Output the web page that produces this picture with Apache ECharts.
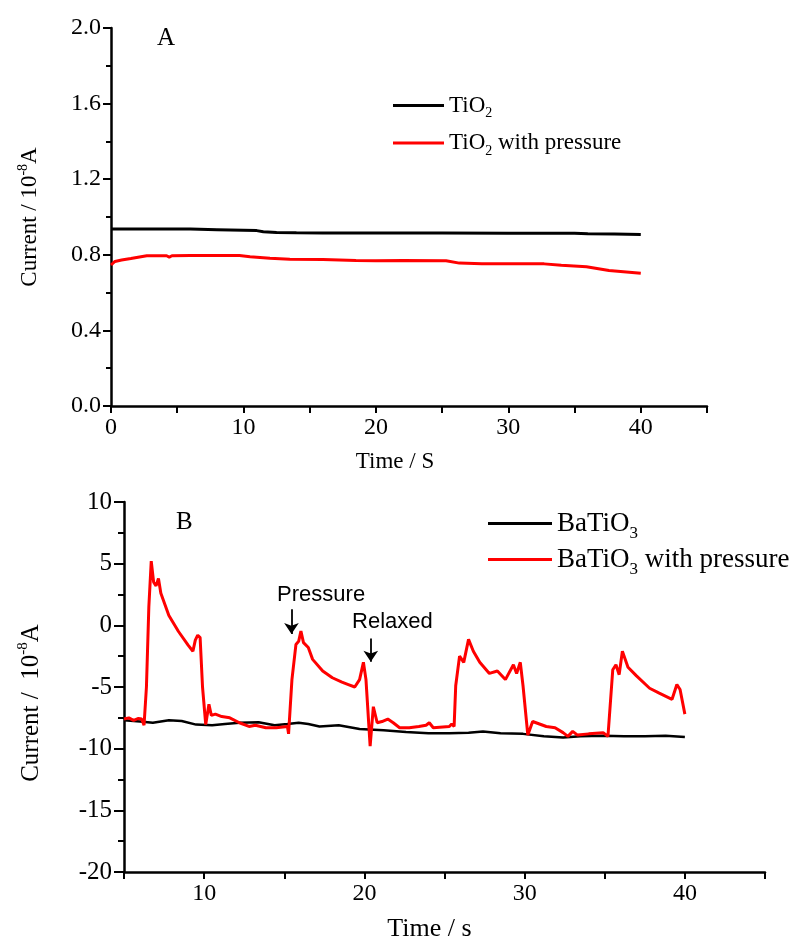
<!DOCTYPE html>
<html><head><meta charset="utf-8">
<script src="https://cdn.jsdelivr.net/npm/echarts@6/dist/echarts.min.js"></script>
<style>html,body{margin:0;padding:0;background:#fff}#c{width:796px;height:943px}</style>
</head><body><div id="c"></div>
<script>
// ---- Panel A data (Time / S, Current / 1e-8 A) ----
const tio2Time = [0,2,4,6,8,10,11,11.5,12.5,14,16,20,25,30,35,36,38,40];
const tio2Cur  = [0.937,0.937,0.937,0.936,0.933,0.930,0.928,0.922,0.918,0.917,0.916,0.915,0.915,0.914,0.914,0.912,0.910,0.908];
const tio2pTime = [0,0.3,0.8,1.5,2.7,4.2,4.4,4.6,6,8,9.7,10.5,12,13.5,16,18.5,20,22,25.3,26.3,28,30,32.7,34,35.9,37.6,40];
const tio2pCur  = [0.746,0.765,0.772,0.780,0.795,0.795,0.788,0.795,0.796,0.796,0.796,0.790,0.782,0.776,0.775,0.770,0.769,0.770,0.769,0.756,0.752,0.752,0.752,0.745,0.737,0.717,0.702];

// ---- Panel B data (Time / s, Current / 1e-8 A) ----
const batTime = [5,6,6.8,7.8,8.6,9.5,10.5,11.3,12.2,13.4,14.4,15.2,15.9,16.5,17.2,18.4,19.7,21.2,22.6,24,25.3,26.5,27.4,28.5,29.9,31.2,32.4,33.5,34.9,36.2,37.5,38.8,40];
const batCur  = [-7.7,-7.8,-7.9,-7.7,-7.75,-8.05,-8.1,-8.0,-7.9,-7.85,-8.1,-8.0,-7.9,-8.0,-8.2,-8.1,-8.4,-8.5,-8.65,-8.75,-8.75,-8.7,-8.6,-8.75,-8.8,-9.0,-9.1,-9.0,-8.95,-9.0,-9.0,-8.95,-9.05];
const batpTime = [5,5.3,5.6,5.9,6.1,6.25,6.4,6.55,6.7,6.85,7.0,7.15,7.3,7.8,8.4,9.0,9.3,9.45,9.6,9.75,9.9,10.1,10.3,10.45,10.7,11.1,11.6,12.2,12.8,13.2,13.85,14.5,15.2,15.27,15.48,15.73,15.9,16.04,16.2,16.5,16.77,17.4,18.0,18.6,19.0,19.4,19.7,19.94,20.1,20.36,20.56,20.8,21.1,21.46,21.8,22.2,22.8,23.4,23.85,24.05,24.3,25.3,25.45,25.6,25.7,25.94,26.05,26.2,26.5,26.8,27.2,27.8,28.3,28.8,29.3,29.5,29.73,29.9,30.2,30.5,31.35,31.9,32.4,32.7,33.0,33.3,34.0,34.9,35.2,35.5,35.7,35.9,36.1,36.45,36.98,37.8,38.4,39.2,39.5,39.7,40];
const batpCur  = [-7.6,-7.5,-7.7,-7.55,-7.6,-8.1,-5.0,1.5,5.2,3.5,3.2,3.8,2.6,0.8,-0.5,-1.6,-2.1,-1.2,-0.8,-1.0,-5.0,-8.05,-6.4,-7.3,-7.2,-7.4,-7.5,-7.9,-8.2,-8.1,-8.3,-8.3,-8.2,-8.8,-4.4,-1.55,-1.3,-0.46,-1.4,-1.8,-2.76,-3.7,-4.25,-4.6,-4.8,-5.0,-4.4,-3.0,-4.4,-9.8,-6.6,-7.9,-7.8,-7.6,-7.9,-8.3,-8.3,-8.2,-8.1,-7.9,-8.3,-8.2,-8.0,-8.2,-4.9,-2.5,-2.4,-3.0,-1.14,-2.1,-3.0,-3.9,-3.7,-4.4,-3.2,-3.9,-3.0,-4.9,-8.9,-7.8,-8.2,-8.3,-8.7,-9.0,-8.6,-8.9,-8.8,-8.7,-9.0,-3.6,-3.2,-4.0,-2.1,-3.4,-4.1,-5.1,-5.5,-6.0,-4.8,-5.2,-7.2];

// annotation positions (data coordinates)
const pressureArrow = {t: 15.45, from: 1.3, to: -0.7};
const relaxedArrow  = {t: 20.4, from: -1.06, to: -2.96};
const pressureLabel = {t: 17.3, v: 2.5};
const relaxedLabel  = {t: 21.75, v: 0.3};

const zip = (a, b) => a.map((x, i) => [x, b[i]]);
const SERIF = '"Liberation Serif","Times New Roman",serif';
const SANS = '"Liberation Sans",Arial,sans-serif';

const chart = echarts.init(document.getElementById('c'), null, {renderer: 'canvas'});

function xAxisCfg(grid, min, name, fs, nfs, pad) {
  return {
    gridIndex: grid, type: 'value', min: min, max: 45, interval: 5,
    name: name, nameLocation: 'middle', nameGap: 44,
    nameTextStyle: {fontFamily: SERIF, fontSize: nfs, color: '#000', padding: [0, pad, 0, 0]},
    axisLine: {show: true, onZero: false, lineStyle: {color: '#000', width: 2.5}},
    axisTick: {show: true, length: 7, lineStyle: {color: '#000', width: 2}},
    axisLabel: {fontFamily: SERIF, fontSize: fs, color: '#000', margin: 10,
      formatter: v => (v % 10 === 0 && v < 45) ? String(v) : ''},
    splitLine: {show: false}
  };
}
const richSup = (s) => ({sup: {fontFamily: SERIF, fontSize: s, color: '#000', padding: [0, 0, s, 0]}});
const legendText = (fs, sub) => ({fontFamily: SERIF, fontSize: fs, color: '#000',
  rich: {sub: {fontFamily: SERIF, fontSize: sub, color: '#000', padding: [Math.round(sub * 1.15), 0, 0, 0]}}});

chart.setOption({
  animation: false,
  backgroundColor: '#fff',
  grid: [
    {left: 111, top: 28, width: 596, height: 378},
    {left: 124, top: 502, width: 641, height: 370}
  ],
  xAxis: [xAxisCfg(0, 0, 'Time / S', 24, 23, 28), xAxisCfg(1, 5, 'Time / s', 24, 26, 30)],
  yAxis: [
    {
      gridIndex: 0, type: 'value', min: 0, max: 2, interval: 0.4,
      name: 'Current / 10{sup|-8}A', nameLocation: 'middle', nameGap: 67,
      nameTextStyle: {fontFamily: SERIF, fontSize: 23, color: '#000', rich: richSup(14)},
      axisLine: {show: true, lineStyle: {color: '#000', width: 2.5}},
      axisTick: {show: true, length: 8, lineStyle: {color: '#000', width: 2}},
      minorTick: {show: true, splitNumber: 2, length: 5, lineStyle: {color: '#000', width: 2}},
      axisLabel: {fontFamily: SERIF, fontSize: 24, color: '#000', margin: 10, formatter: v => v.toFixed(1)},
      splitLine: {show: false}
    },
    {
      gridIndex: 1, type: 'value', min: -20, max: 10, interval: 5,
      name: 'Current /  10{sup|-8}A', nameLocation: 'middle', nameGap: 78,
      nameTextStyle: {fontFamily: SERIF, fontSize: 25, color: '#000', rich: richSup(15), padding: [0, 32, 0, 0]},
      axisLine: {show: true, lineStyle: {color: '#000', width: 2.5}},
      axisTick: {show: true, length: 10, lineStyle: {color: '#000', width: 2}},
      minorTick: {show: true, splitNumber: 2, length: 6, lineStyle: {color: '#000', width: 2}},
      axisLabel: {fontFamily: SERIF, fontSize: 25, color: '#000', margin: 12},
      splitLine: {show: false}
    }
  ],
  legend: [
    {
      orient: 'vertical', left: 393, top: 94, itemGap: 11, padding: 0,
      data: ['TiO2', 'TiO2 with pressure'],
      icon: 'rect', itemWidth: 51, itemHeight: 3,
      formatter: n => n.replace('TiO2', 'TiO{sub|2}'),
      textStyle: legendText(23, 14)
    },
    {
      orient: 'vertical', left: 488, top: 510, itemGap: 4, padding: 0,
      data: ['BaTiO3', 'BaTiO3 with pressure'],
      icon: 'rect', itemWidth: 64, itemHeight: 3,
      formatter: n => n.replace('BaTiO3', 'BaTiO{sub|3}'),
      textStyle: legendText(27, 17)
    }
  ],
  graphic: [
    {type: 'text', left: 157, top: 26, style: {text: 'A', font: '25px ' + SERIF, fill: '#000'}},
    {type: 'text', left: 176, top: 510, style: {text: 'B', font: '25px ' + SERIF, fill: '#000'}}
  ],
  series: [
    {name: 'TiO2', type: 'line', xAxisIndex: 0, yAxisIndex: 0, data: zip(tio2Time, tio2Cur),
      symbol: 'none', color: '#000', lineStyle: {width: 3, color: '#000'}},
    {name: 'TiO2 with pressure', type: 'line', xAxisIndex: 0, yAxisIndex: 0, data: zip(tio2pTime, tio2pCur),
      symbol: 'none', color: '#ff0000', lineStyle: {width: 3, color: '#ff0000'}},
    {name: 'BaTiO3', type: 'line', xAxisIndex: 1, yAxisIndex: 1, data: zip(batTime, batCur),
      symbol: 'none', color: '#000', lineStyle: {width: 2.5, color: '#000'}},
    {name: 'BaTiO3 with pressure', type: 'line', xAxisIndex: 1, yAxisIndex: 1, data: zip(batpTime, batpCur),
      symbol: 'none', color: '#ff0000', lineStyle: {width: 3, color: '#ff0000'},
      markLine: {
        silent: true, symbol: ['none', 'arrow'], symbolSize: 11,
        label: {show: false},
        lineStyle: {color: '#000', width: 1.8, type: 'solid'},
        itemStyle: {color: '#000'},
        emphasis: {disabled: true},
        data: [
          [{coord: [pressureArrow.t, pressureArrow.from]}, {coord: [pressureArrow.t, pressureArrow.to]}],
          [{coord: [relaxedArrow.t, relaxedArrow.from]}, {coord: [relaxedArrow.t, relaxedArrow.to]}]
        ]
      },
      markPoint: {
        silent: true, symbol: 'circle', symbolSize: 0,
        label: {show: true, fontFamily: SANS, fontSize: 22, color: '#000'},
        data: [
          {coord: [pressureLabel.t, pressureLabel.v], label: {formatter: 'Pressure'}},
          {coord: [relaxedLabel.t, relaxedLabel.v], label: {formatter: 'Relaxed'}}
        ]
      }
    }
  ]
});
</script></body></html>
